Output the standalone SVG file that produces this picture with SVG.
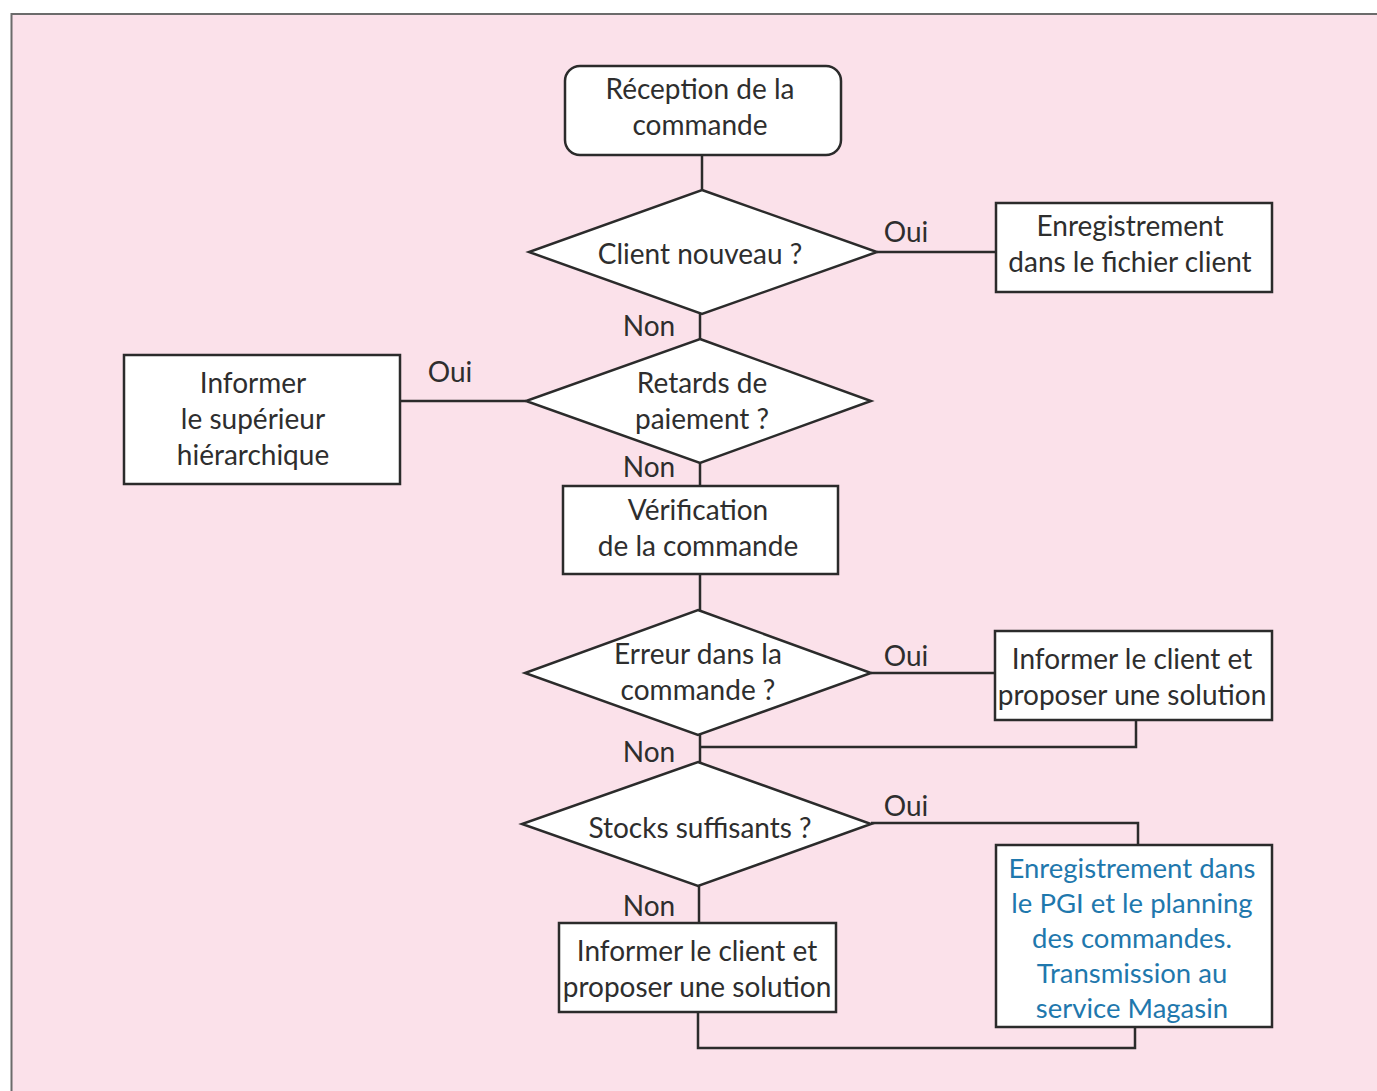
<svg xmlns="http://www.w3.org/2000/svg" width="1377" height="1091" viewBox="0 0 1377 1091">
<style>
.bg{fill:#fbe1ea}
.n{fill:#fff;stroke:#2b2b2b;stroke-width:2.5}
.c{fill:none;stroke:#2b2b2b;stroke-width:2.5}
text{font-family:Lato,"Open Sans",sans-serif;font-size:28px;fill:#2e2e2e;text-anchor:middle}
.blue{fill:#1f78ad;font-size:27.5px}
</style>
<rect x="0" y="0" width="1377" height="1091" fill="#fff"/>
<rect class="bg" x="11" y="14" width="1366" height="1077"/>
<path d="M11.5 1091 V14 H1377" fill="none" stroke="#6b6b6b" stroke-width="2"/>
<g id="connectors">
<path class="c" d="M702 155 V190"/>
<path class="c" d="M877 252 H996"/>
<path class="c" d="M700 314 V339"/>
<path class="c" d="M526 401 H400"/>
<path class="c" d="M700 463 V486"/>
<path class="c" d="M700 574 V610"/>
<path class="c" d="M871 673 H995"/>
<path class="c" d="M1136 720 V747 H700"/>
<path class="c" d="M700 735 V762"/>
<path class="c" d="M871 823 H1138 V845"/>
<path class="c" d="M699 886 V923"/>
<path class="c" d="M698 1012 V1048 H1135 V1027"/>
<text x="906" y="242">Oui</text>
<text x="649" y="336">Non</text>
<text x="450" y="382">Oui</text>
<text x="649" y="477">Non</text>
<text x="906" y="666">Oui</text>
<text x="649" y="762">Non</text>
<text x="906" y="816">Oui</text>
<text x="649" y="916">Non</text>
</g>
<g id="start">
<rect class="n" x="565" y="66" width="276" height="89" rx="15"/>
<text x="700" y="99">Réception de la</text>
<text x="700" y="135">commande</text>
</g>
<g id="d-client">
<polygon class="n" points="702,190 877,252 702,314 529,252"/>
<text x="700" y="264">Client nouveau ?</text>
</g>
<g id="b-fichier">
<rect class="n" x="996" y="203" width="276" height="89"/>
<text x="1130" y="236">Enregistrement</text>
<text x="1130" y="272">dans le fichier client</text>
</g>
<g id="d-retards">
<polygon class="n" points="700,339 871,401 700,463 526,401"/>
<text x="702" y="393">Retards de</text>
<text x="702" y="429">paiement ?</text>
</g>
<g id="b-superieur">
<rect class="n" x="124" y="355" width="276" height="129"/>
<text x="253" y="393">Informer</text>
<text x="253" y="429">le supérieur</text>
<text x="253" y="465">hiérarchique</text>
</g>
<g id="b-verif">
<rect class="n" x="563" y="486" width="275" height="88"/>
<text x="698" y="520">Vérification</text>
<text x="698" y="556">de la commande</text>
</g>
<g id="d-erreur">
<polygon class="n" points="698,610 871,673 698,735 525,673"/>
<text x="698" y="664">Erreur dans la</text>
<text x="698" y="700">commande ?</text>
</g>
<g id="b-info1">
<rect class="n" x="995" y="631" width="277" height="89"/>
<text x="1132" y="669">Informer le client et</text>
<text x="1132" y="705">proposer une solution</text>
</g>
<g id="d-stocks">
<polygon class="n" points="698,762 871,824 698,886 522,824"/>
<text x="700" y="838">Stocks suffisants ?</text>
</g>
<g id="b-pgi">
<rect class="n" x="996" y="845" width="276" height="182"/>
<text class="blue" x="1132" y="878">Enregistrement dans</text>
<text class="blue" x="1132" y="913">le PGI et le planning</text>
<text class="blue" x="1132" y="948">des commandes.</text>
<text class="blue" x="1132" y="983">Transmission au</text>
<text class="blue" x="1132" y="1018">service Magasin</text>
</g>
<g id="b-info2">
<rect class="n" x="559" y="923" width="277" height="89"/>
<text x="697" y="961">Informer le client et</text>
<text x="697" y="997">proposer une solution</text>
</g>
</svg>
